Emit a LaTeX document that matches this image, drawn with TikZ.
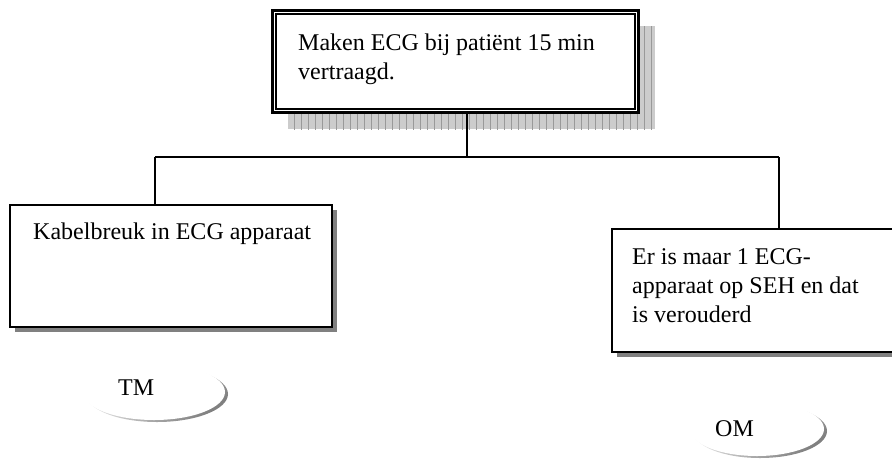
\documentclass[tikz,border=0pt]{standalone}
\usepackage{fontspec}
\setmainfont{Liberation Serif}
\usetikzlibrary{shapes.geometric}
\begin{document}
\begin{tikzpicture}[x=1pt,y=-1pt,
  lbl/.style={font=\fontsize{24}{28.7}\selectfont, inner sep=0pt, align=left, anchor=north west},
  box/.style={draw=black, fill=white, line width=2pt, inner sep=0pt, rectangle},
  dropshade/.style={fill=black!50},
  wire/.style={draw=black, line width=1.8pt},
  bubble/.style={ellipse, fill=white, inner sep=0pt, minimum width=142pt, minimum height=56pt},
  bubbleshade/.style={top color=white, bottom color=black!50, shading angle=40}
]
\useasboundingbox (0,0) rectangle (892,459);

% ---------- top box: hatched shadow, double frame ----------
\begin{scope}
  \clip (288,26) rectangle (655,129);
  \fill[black!20] (288,26) rectangle (655,129);
  \draw[black!40, line width=0.6pt, step=7] (288,26) grid (656,130);
\end{scope}
\node[box, line width=3pt, minimum width=366pt, minimum height=102pt] (top) at (455,61) {};
\draw[line width=2pt] ([shift={(5,5)}]top.north west) rectangle ([shift={(-5,-5)}]top.south east);
\node[lbl] (toptext) at (298,30.3) {\strut Maken ECG bij patiënt 15 min\\vertraagd.};

% ---------- left box ----------
\fill[dropshade] (15,210) rectangle (337,332);
\node[box, minimum width=322pt, minimum height=122pt] (left) at (171,266) {};
\node[lbl] (lefttext) at (33,219.7) {\strut Kabelbreuk in ECG apparaat};

% ---------- right box ----------
\fill[dropshade] (617,234) rectangle (910,357);
\node[box, minimum width=293pt, minimum height=123pt] (right) at (758.5,290.5) {};
\node[lbl] (righttext) at (632,244.7) {\strut Er is maar 1 ECG-\\apparaat op SEH en dat\\is verouderd};

% ---------- connectors ----------
\coordinate (hub) at (467,157);
\coordinate (hl) at (155,157);
\coordinate (hr) at (779,157);
\draw[wire] (top.south -| hub) -- (hub);
\draw[wire] (hl) -- (hr);
\draw[wire] (hl) -- (hl |- left.north);
\draw[wire] (hr) -- (hr |- right.north);

% ---------- ellipse labels with soft shadow ----------
\shade[bubbleshade] (157,394) ellipse [x radius=71, y radius=28];
\node[bubble] (tmshape) at (154,392) {};
\node[lbl] (tm) at (118,375.7) {\strut TM};

\shade[bubbleshade] (760,431) ellipse [x radius=67, y radius=27];
\node[bubble, minimum width=134pt, minimum height=54pt] (omshape) at (757,429) {};
\node[lbl] (om) at (715,416.7) {\strut OM};
\end{tikzpicture}
\end{document}
